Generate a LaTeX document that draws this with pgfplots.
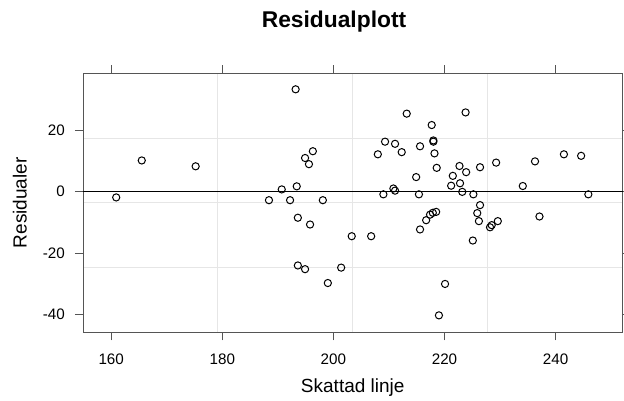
\documentclass[border=0pt]{standalone}
\usepackage{pgfplots}
\pgfplotsset{compat=1.18}
\usepackage{fontspec}
\setmainfont{Liberation Sans}
\definecolor{framegray}{HTML}{555555}
\definecolor{gridgray}{HTML}{E6E6E6}
\pgfplotstableread{
x y
160.9 -1.9
165.5 10.1
175.2 8.2
188.4 -2.8
190.7 0.7
192.2 -2.8
193.2 33.2
193.4 1.7
193.6 -8.5
193.6 -24.0
194.9 10.9
194.9 -25.2
195.6 8.9
195.8 -10.7
196.3 13.1
198.1 -2.8
199.0 -29.7
201.4 -24.7
203.3 -14.5
206.8 -14.5
208.0 12.1
209.0 -0.9
209.3 16.2
210.8 1.0
211.1 0.3
211.1 15.5
212.3 12.8
213.2 25.3
214.9 4.7
215.4 -0.9
215.6 14.7
215.6 -12.3
216.7 -9.3
217.4 -7.5
217.7 21.6
217.9 -6.9
218.0 16.6
218.0 16.2
218.2 12.4
218.5 -6.6
218.6 7.7
219.0 -40.2
220.1 -30.0
221.2 1.9
221.5 5.1
222.7 8.3
222.8 2.7
223.2 -0.1
223.8 25.7
223.9 6.3
225.1 -15.9
225.2 -0.9
225.9 -7.0
226.2 -9.6
226.4 7.9
226.4 -4.4
228.2 -11.6
228.5 -10.9
229.3 9.4
229.6 -9.6
234.1 1.8
236.3 9.8
237.1 -8.1
241.5 12.1
244.6 11.6
245.9 -0.9
}\resid
\begin{document}
\begin{tikzpicture}
\begin{axis}[
  at={(0,0)}, anchor=south west, scale only axis,
  width=539.5bp, height=259bp,
  xmin=154.92, xmax=252.05, ymin=-45.7, ymax=38.4,
  axis line style={draw=framegray, line width=0.9bp},
  tick style={draw=framegray, line width=0.9bp},
  tick align=outside, major tick length=8bp,
  xtick pos=both, ytick pos=both,
  xtick={160,180,200,220,240}, xticklabels={160,180,200,220,240},
  ytick={-40,-20,0,20}, yticklabels={-40,-20,0,20},
  minor xtick={179.20,203.49,227.77},
  minor ytick={-24.675,-3.65,17.375},
  minor tick length=0pt,
  xminorgrids, yminorgrids,
  minor grid style={draw=gridgray, line width=0.9bp},
  xticklabel style={font=\fontsize{15.2bp}{18bp}\selectfont, inner sep=0pt, anchor=north, yshift=-13bp},
  yticklabel style={font=\fontsize{15.2bp}{18bp}\selectfont, inner sep=0pt, anchor=east, xshift=-10bp},
  clip=false,
]
\addplot[black, line width=0.9bp, no marks] coordinates {(154.92,0) (252.05,0)};
\addplot[only marks, mark=o, mark size=3.6bp, black, mark options={line width=1bp}] table[x=x,y=y] {\resid};
\end{axis}
\node[anchor=base, font=\fontsize{19bp}{22bp}\selectfont] at (269.75bp,-59.7bp) {Skattad linje};
\node[anchor=base, rotate=90, font=\fontsize{19bp}{22bp}\selectfont] at (-56.3bp,129.5bp) {Residualer};
\node[anchor=base, font=\fontsize{22.8bp}{26bp}\selectfont\bfseries] at (251bp,304.3bp) {Residualplott};
\pgfresetboundingbox
\useasboundingbox (-83bp,-68.7bp) rectangle (541bp,332.3bp);
\end{tikzpicture}
\end{document}
